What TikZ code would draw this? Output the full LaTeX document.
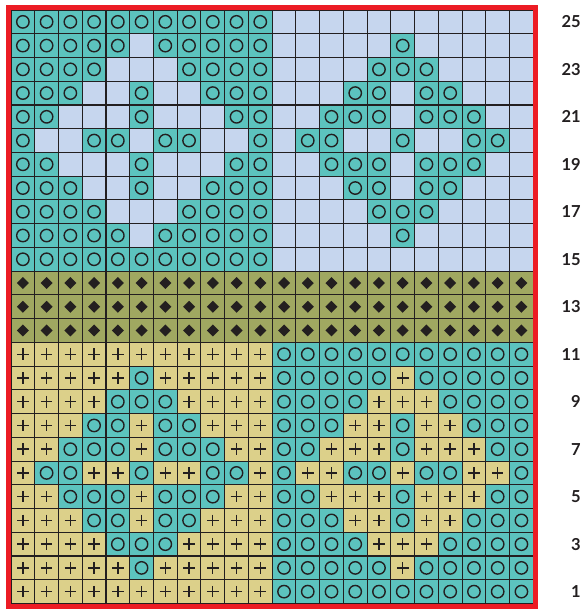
\documentclass[tikz,border=0pt]{standalone}
\usepackage{fontspec}
\setsansfont{Lato}
\definecolor{gridink}{HTML}{231F20}
\definecolor{tealfill}{HTML}{5CC3BE}
\definecolor{skyfill}{HTML}{C6D6EE}
\definecolor{olivefill}{HTML}{A0A861}
\definecolor{sandfill}{HTML}{DCD08A}
\definecolor{framered}{HTML}{EC1C24}
\newcommand{\cs}{23.74}
\tikzset{
  cell/.style={draw=gridink, line width=1.1pt},
  symbolink/.style={draw=gridink, line width=1.4pt},
  rownum/.style={font=\sffamily\bfseries\fontsize{16.5}{18}\selectfont, text=gridink, anchor=east, inner sep=0pt},
  ringcell/.pic={\filldraw[cell, fill=tealfill] (-\cs/2,-\cs/2) rectangle (\cs/2,\cs/2);
    \draw[symbolink] (0,0) circle (6.2pt);},
  skycell/.pic={\filldraw[cell, fill=skyfill] (-\cs/2,-\cs/2) rectangle (\cs/2,\cs/2);},
  crosscell/.pic={\filldraw[cell, fill=sandfill] (-\cs/2,-\cs/2) rectangle (\cs/2,\cs/2);
    \draw[symbolink] (-5.8,0) -- (5.8,0) (0,-5.8) -- (0,5.8);},
  dotcell/.pic={\filldraw[cell, fill=olivefill] (-\cs/2,-\cs/2) rectangle (\cs/2,\cs/2);
    \fill[gridink] (0,-6) -- (6,0) -- (0,6) -- (-6,0) -- cycle;}
}

\begin{document}
\begin{tikzpicture}[x=1pt, y=-1pt]
  \useasboundingbox (0,0) rectangle (583,609);

  % motif rows, bottom to top (1 = ground colour of the block)
  \foreach \k/\bits in {0/{1,1,1,1,1,1,1,1,1,1,1},
                        1/{1,1,1,1,1,0,1,1,1,1,1},
                        2/{1,1,1,1,0,0,0,1,1,1,1},
                        3/{1,1,1,0,0,1,0,0,1,1,1},
                        4/{1,1,0,0,0,1,0,0,0,1,1},
                        5/{1,0,0,1,1,0,1,1,0,0,1},
                        6/{1,1,0,0,0,1,0,0,0,1,1},
                        7/{1,1,1,0,0,1,0,0,1,1,1},
                        8/{1,1,1,1,0,0,0,1,1,1,1},
                        9/{1,1,1,1,1,0,1,1,1,1,1},
                        10/{1,1,1,1,1,1,1,1,1,1,1}}{
    \foreach \b [count=\c] in \bits {
      \pgfmathsetmacro\lx{11+(\c-0.5)*\cs}
      \pgfmathsetmacro\rx{11+(\c+10.5)*\cs}
      \pgfmathsetmacro\ytop{10+(10.5-\k)*\cs}
      \pgfmathsetmacro\ybot{10+(24.5-\k)*\cs}
      \ifnum\b=1
        \pic at (\lx,\ytop) {ringcell};
        \pic at (\rx,\ytop) {skycell};
        \pic at (\lx,\ybot) {crosscell};
        \pic at (\rx,\ybot) {ringcell};
      \else
        \pic at (\lx,\ytop) {skycell};
        \pic at (\rx,\ytop) {ringcell};
        \pic at (\lx,\ybot) {ringcell};
        \pic at (\rx,\ybot) {crosscell};
      \fi
    }
  }

  % bobble band, rows 12-14
  \foreach \r in {12,13,14}
    \foreach \c in {1,...,22}
      \pic at ({11+(\c-0.5)*\cs}, {10+(25.5-\r)*\cs}) {dotcell};

  \draw[framered, line width=5pt] (8.5,7.5) rectangle (535.8,606.1);

  \foreach \r in {1,3,...,25}
    \node[rownum] (n\r) at (581, {10+(25.5-\r)*\cs}) {\r};
\end{tikzpicture}
\end{document}
